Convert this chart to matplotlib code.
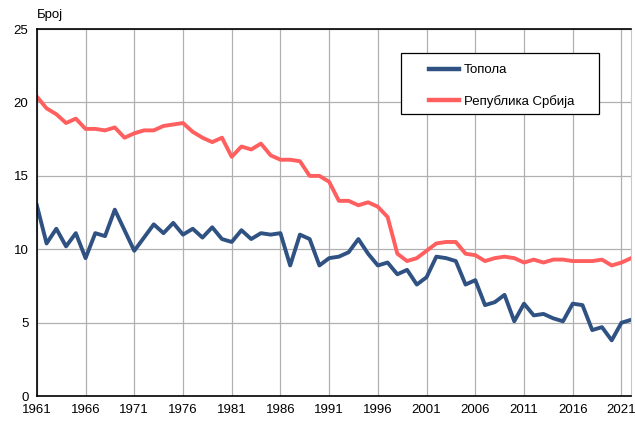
import numpy as np
import matplotlib.pyplot as plt
from matplotlib.patches import Rectangle

years = list(range(1961, 2023))

topola = [13.0, 10.4, 11.4, 10.2, 11.1, 9.4, 11.1, 10.9, 12.7, 11.3,
          9.9, 10.8, 11.7, 11.1, 11.8, 11.0, 11.4, 10.8, 11.5, 10.7,
          10.5, 11.3, 10.7, 11.1, 11.0, 11.1, 8.9, 11.0, 10.7, 8.9,
          9.4, 9.5, 9.8, 10.7, 9.7, 8.9, 9.1, 8.3, 8.6, 7.6,
          8.1, 9.5, 9.4, 9.2, 7.6, 7.9, 6.2, 6.4, 6.9, 5.1,
          6.3, 5.5, 5.6, 5.3, 5.1, 6.3, 6.2, 4.5, 4.7, 3.8,
          5.0, 5.2]

srbija = [20.4, 19.6, 19.2, 18.6, 18.9, 18.2, 18.2, 18.1, 18.3, 17.6,
          17.9, 18.1, 18.1, 18.4, 18.5, 18.6, 18.0, 17.6, 17.3, 17.6,
          16.3, 17.0, 16.8, 17.2, 16.4, 16.1, 16.1, 16.0, 15.0, 15.0,
          14.6, 13.3, 13.3, 13.0, 13.2, 12.9, 12.2, 9.7, 9.2, 9.4,
          9.9, 10.4, 10.5, 10.5, 9.7, 9.6, 9.2, 9.4, 9.5, 9.4,
          9.1, 9.3, 9.1, 9.3, 9.3, 9.2, 9.2, 9.2, 9.3, 8.9,
          9.1, 9.4]

labels = ['Топола', 'Република Србија']
colors = ['#2f5283', '#ff5f5f']

plt.rcParams['font.family'] = ['Liberation Sans', 'DejaVu Sans']

fig = plt.figure(figsize=(6.35, 4.21), dpi=100)
ax = fig.add_axes([0.058, 0.059, 0.936, 0.872])

ax.plot(years, topola, color=colors[0], linewidth=2.8, label=labels[0])
ax.plot(years, srbija, color=colors[1], linewidth=2.8, label=labels[1])

ax.set_xlim(1961, 2022)
ax.set_ylim(0, 25)
ax.set_xticks(range(1961, 2022, 5))
ax.set_yticks(range(0, 26, 5))
ax.tick_params(axis='both', length=0, labelsize=9.5, pad=6)
ax.grid(True, color='#b0b0b0', linewidth=0.9)
ax.set_axisbelow(True)

for s in ['left', 'bottom', 'top']:
    ax.spines[s].set_color('black')
    ax.spines[s].set_linewidth(1.2)
ax.spines['right'].set_color('#c8c8c8')

fig.text(0.058, 0.950, 'Број', fontsize=9.5, ha='left', va='bottom')

# legend frame drawn separately so its padding can match the reference
frame = Rectangle((0.6315, 0.7292), 0.3118, 0.1449, transform=fig.transFigure,
                  facecolor='white', edgecolor='black', linewidth=0.9, zorder=3, clip_on=False)
ax.add_patch(frame)
leg = ax.legend(loc='upper left', bbox_to_anchor=(0.6756, 0.848), bbox_transform=fig.transFigure,
                frameon=False, fontsize=9.5, handlelength=2.3, labelspacing=1.4,
                borderpad=0, borderaxespad=0, handletextpad=0.35)
leg.set_zorder(5)
for line in leg.get_lines():
    line.set_linewidth(3.2)

fig.savefig('out.png', dpi=100)
